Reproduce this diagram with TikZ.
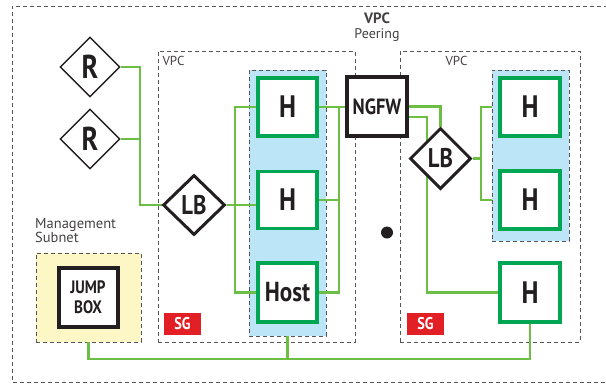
\documentclass[tikz,border=0pt]{standalone}
\usepackage{fontspec}
\setmainfont{PT Sans}
\newfontfamily\cond[FakeStretch=0.84]{PT Sans}
\usetikzlibrary{shapes.geometric}
\pgfdeclarelayer{zones}
\pgfdeclarelayer{links}
\pgfsetlayers{zones,links,main}
\definecolor{lgreen}{HTML}{6DBE45}
\definecolor{bgreen}{HTML}{00A651}
\definecolor{sgblue}{HTML}{BDE5F8}
\definecolor{myellow}{HTML}{FCF7C5}
\definecolor{sgred}{HTML}{E31F26}
\definecolor{dgray}{HTML}{555555}
\definecolor{ink}{HTML}{231F20}
\tikzset{
  frame/.style={draw=dgray, line width=0.9pt, dash pattern=on 4pt off 3pt},
  zone/.style={frame, inner sep=0pt},
  hostbox/.style={draw=bgreen, line width=3.5pt, fill=white, inner sep=0pt, text=ink, font=\cond\bfseries\fontsize{31}{31}\selectfont},
  router/.style={diamond, draw=ink, line width=1.4pt, fill=white, inner sep=0pt, minimum width=60pt, minimum height=60pt, text=ink, font=\cond\bfseries\fontsize{33}{33}\selectfont},
  lbal/.style={diamond, draw=ink, line width=3pt, fill=white, inner sep=0pt, text=ink, font=\cond\bfseries\fontsize{27}{27}\selectfont},
  blackbox/.style={draw=ink, fill=white, inner sep=0pt, text=ink},
  link/.style={draw=lgreen, line width=2.4pt},
  sgtag/.style={fill=sgred, text=white, inner sep=0pt, minimum width=37pt, minimum height=22pt, font=\cond\bfseries\fontsize{17}{17}\selectfont},
  lbl/.style={text=ink!85, inner sep=0pt},
}
\begin{document}
\begin{tikzpicture}[x=1pt,y=-1pt]
\useasboundingbox (0,0) rectangle (606,386);
\begin{pgfonlayer}{zones}
% outer frame (right side runs off the picture)
\draw[frame, line width=1pt] (615,6) -- (12,6) -- (12,382) -- (615,382);
% VPC zones
\node[zone, minimum width=197pt, minimum height=291pt] (vpcL) at (256.5,196.5) {};
\node[zone, minimum width=180pt, minimum height=291pt] (vpcR) at (490,196.5) {};
% security groups and management subnet
\node[zone, fill=sgblue, minimum width=77pt, minimum height=266pt] (sgL) at (287.5,203) {};
\node[zone, fill=sgblue, minimum width=77pt, minimum height=171pt] (sgR) at (530.5,155.5) {};
\node[zone, fill=myellow, minimum width=105pt, minimum height=89pt] (mgmt) at (88.5,297.5) {};
\end{pgfonlayer}
% labels
\node[lbl, font=\bfseries\fontsize{15}{15}\selectfont] (vpcT) at (377,18.5) {VPC};
\node[lbl, font=\fontsize{14}{14}\selectfont] (peer) at (377,35) {Peering};
\node[lbl, font=\fontsize{13}{13}\selectfont] (vpcLl) at (173.5,61) {VPC};
\node[lbl, font=\fontsize{13}{13}\selectfont] (vpcRl) at (456.5,61) {VPC};
\node[lbl, anchor=north west, align=left, font=\fontsize{14.5}{13}\selectfont] (mgl) at (35,218) {Management\\Subnet};
% helper coordinates
\coordinate (busR) at (140,0);
\coordinate (busL) at (235,0);
\coordinate (busM) at (339,0);
\coordinate (busN) at (427,0);
\coordinate (busQ) at (481,0);
\coordinate (bot) at (0,359);
\coordinate (n2) at (407,117);
% nodes
\node[router] (R1) at (90,67) {R};
\node[router] (R2) at (90,139) {R};
\node[lbal, minimum width=62pt, minimum height=60pt] (LBL) at (194,205) {LB};
\node[lbal, minimum width=61pt, minimum height=61pt] (LBR) at (440.5,158.5) {LB};
\node[hostbox, minimum width=59pt, minimum height=58pt] (H1) at (287.5,107) {H};
\node[hostbox, minimum width=59pt, minimum height=57pt] (H2) at (287.5,200) {H};
\node[hostbox, minimum width=59pt, minimum height=59pt, font=\cond\bfseries\fontsize{27.5}{27.5}\selectfont] (Host) at (287.5,292.5) {Host};
\node[hostbox, minimum width=60pt, minimum height=58pt] (H4) at (530,107) {H};
\node[hostbox, minimum width=60pt, minimum height=58pt] (H5) at (530,200) {H};
\node[hostbox, minimum width=60pt, minimum height=59pt] (H3) at (530,292.5) {H};
\node[blackbox, line width=3.5pt, minimum width=60pt, minimum height=59pt, font=\cond\bfseries\fontsize{22}{22}\selectfont] (NGFW) at (377,106.5) {NGFW};
\node[blackbox, line width=4pt, minimum width=59pt, minimum height=59pt, align=center, font=\cond\bfseries\fontsize{18}{20}\selectfont] (JB) at (88,297) {JUMP\\BOX};
% connectors
\begin{pgfonlayer}{links}
\draw[link] (R1.east) -| (busR |- LBL.west) -- (LBL.west);
\draw[link] (R2.east) -| (busR |- LBL.west);
\draw[link] (LBL.east) -- (LBL.east -| H2.west);
\draw[link] (H1.west) -| (busL |- Host.west) -- (Host.west);
\draw[link] (H1.east) -- (H1.east -| NGFW.west);
\draw[link] (H1.east -| busM) -- (busM |- Host.east) -- (Host.east);
\draw[link] (H2.east) -- (H2.east -| busM);
\draw[link] (NGFW.east) -| (LBR.north);
\draw[link] (n2) -| (busN |- H3.west) -- (H3.west);
\draw[link] (LBR.east) -- (LBR.east -| busQ);
\draw[link] (H4.west -| sgR.west) -| (busQ |- H5.west) -- (H5.west -| sgR.west);
\draw[link] (mgmt.south) |- (H3.south |- bot) -- (H3.south);
\draw[link] (sgL.south) -- (sgL.south |- bot);
\end{pgfonlayer}
% security group tags and dot
\node[sgtag] (sg1) at (182.5,324) {SG};
\node[sgtag] (sg2) at (425.5,324) {SG};
\fill[ink] (387,232.5) circle[radius=6pt];
\end{tikzpicture}
\end{document}
